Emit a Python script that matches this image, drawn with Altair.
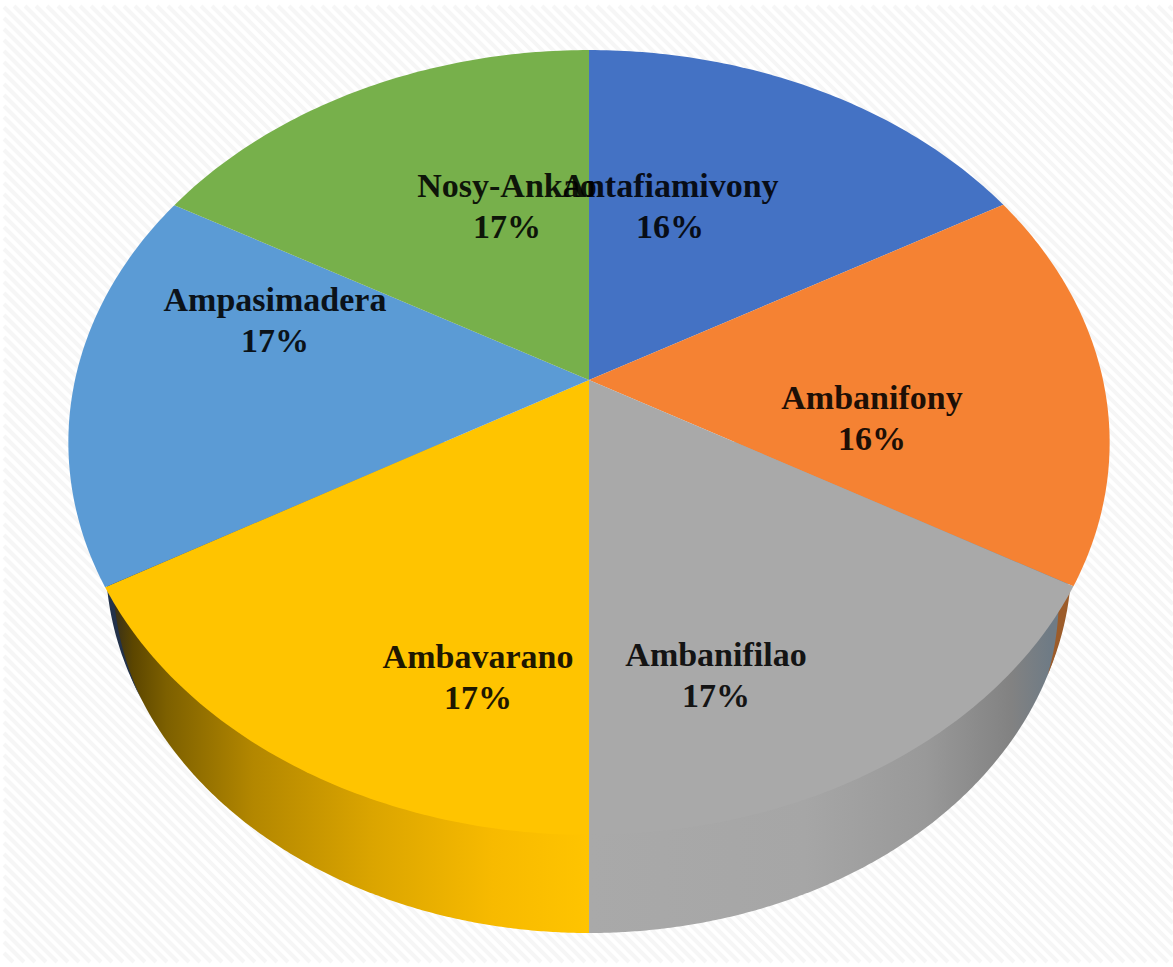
import numpy as np
import pandas as pd
import altair as alt

# Share of each commune, clockwise from twelve o'clock
communes = ["Antafiamivony", "Ambanifony", "Ambanifilao", "Ambavarano", "Ampasimadera", "Nosy-Ankao"]
shares = [16.49, 16.49, 17.02, 16.98, 16.51, 16.51]
face_colors = ["#4472C4", "#F58233", "#A9A9A9", "#FFC400", "#5B9BD5", "#77B04B"]
label_x = [670, 872, 716, 478, 275, 507]
label_y = [197, 409, 666, 668, 311, 197]

W, H = 1173, 967
X0 = 589            # horizontal axis of the pie
FACE_HUB_Y = 380    # where the tilted disc's centre lands
FACE_HALF_W = 514
TILT = 0.1592
FACE_V = -322
ANGLE_EASE = np.radians(1.2)   # slight angular foreshortening of the tilted face
BASE = (567, 480, 366)   # centre y, half width, half height of the bottom rim


def tilt(u, v):
    """Perspective projection of a point on the unit disc."""
    w = 1 + TILT * v
    return X0 + FACE_HALF_W * u / w, (FACE_HUB_Y + FACE_V * v) / w


def base_y(x):
    cy, rx, ry = BASE
    return cy + ry * np.sqrt(np.clip(1 - ((x - X0) / rx) ** 2, 0, 1))


def base_x(y, side):
    cy, rx, ry = BASE
    return X0 + side * rx * np.sqrt(np.clip(1 - ((y - cy) / ry) ** 2, 0, 1))


# Top face: one closed outline per slice
cuts = np.cumsum([0] + shares) / sum(shares) * 2 * np.pi
cuts = cuts + ANGLE_EASE * np.sin(cuts)
rows = []
for name, a0, a1 in zip(communes, cuts[:-1], cuts[1:]):
    arc = np.linspace(a0, a1, 80)
    px, py = tilt(np.sin(arc), np.cos(arc))
    hx, hy = tilt(0.0, 0.0)
    xs = np.r_[hx, px, hx]
    ys = np.r_[hy, py, hy]
    rows += [{"slice": name, "i": i, "x": a, "y": b} for i, (a, b) in enumerate(zip(xs, ys))]
face_df = pd.DataFrame(rows)

x_scale = alt.Scale(domain=[0, W], range=[0, W], nice=False, zero=False)
y_scale = alt.Scale(domain=[0, H], range=[0, H], nice=False, zero=False)
X = alt.X("x:Q", scale=x_scale, axis=None)
Y = alt.Y("y:Q", scale=y_scale, axis=None)

# Faint diagonal hatch behind the pie
offs = np.arange(-960, 1173, 11.0)
x_a = np.maximum(4, 6 + offs)
x_b = np.minimum(W, 962 + offs)
keep = x_b > x_a
hatch_df = pd.DataFrame({"x": x_a[keep], "x2": x_b[keep], "y": (x_a - offs)[keep], "y2": (x_b - offs)[keep]})
hatch = alt.Chart(hatch_df).mark_rule(color="#f6f6f6", strokeWidth=4).encode(
    x=X, x2="x2:Q", y=Y, y2="y2:Q"
)


def wall(x_from, x_to, stops):
    xs = np.linspace(x_from, x_to, 160)
    df = pd.DataFrame({"x": xs, "y": base_y(xs), "y2": 442.0})
    fill = alt.Gradient(
        gradient="linear", x1=0, x2=1, y1=0, y2=0,
        stops=[alt.GradientStop(offset=o, color=c) for o, c in stops],
    )
    return alt.Chart(df).mark_area(color=fill).encode(x=X, y=Y, y2="y2:Q")


wall_left = wall(X0 - BASE[1], X0, [
    (0.0, "#2e2a20"), (0.05, "#5c4600"), (0.12, "#7d6000"), (0.3, "#b38700"),
    (0.55, "#dba500"), (0.8, "#f7ba00"), (1.0, "#ffc400"),
])
wall_right = wall(X0, X0 + BASE[1], [
    (0.0, "#a9a9a9"), (0.45, "#a6a6a6"), (0.7, "#999999"), (0.88, "#828282"),
    (0.96, "#6f7b85"), (1.0, "#6f7b85"),
])

# Narrow rim of the neighbouring slices, seen at the far ends of the wall
ys_r = np.linspace(585, 675, 40)
fade_r = (675 - ys_r) / 90
rim_r = pd.DataFrame({"y": ys_r, "x": base_x(ys_r, 1) + 2 * fade_r, "x2": base_x(ys_r, 1) - 10 * fade_r})
rim_right = alt.Chart(rim_r).mark_area(orient="horizontal", color="#9c5c2a").encode(y=Y, x=X, x2="x2:Q")
ys_l = np.linspace(575, 700, 40)
fade_l = (700 - ys_l) / 125
rim_l = pd.DataFrame({"y": ys_l, "x": base_x(ys_l, -1) - 3 * fade_l, "x2": base_x(ys_l, -1) + 4 * fade_l})
rim_left = alt.Chart(rim_l).mark_area(orient="horizontal", color="#23324a").encode(y=Y, x=X, x2="x2:Q")

face = alt.Chart(face_df).mark_line(filled=True).encode(
    x=X, y=Y, order="i:Q",
    color=alt.Color("slice:N", scale=alt.Scale(domain=communes, range=face_colors), legend=None),
)

# Two-line labels: commune name above its rounded share
label_rows = []
for name, share, lx, ly in zip(communes, shares, label_x, label_y):
    label_rows.append({"text": name, "x": lx, "y": ly})
    label_rows.append({"text": f"{round(share)}%", "x": lx, "y": ly + 41})
labels = alt.Chart(pd.DataFrame(label_rows)).mark_text(
    font="Liberation Serif", fontWeight="bold", fontSize=34, color="#000000", opacity=0.88,
    align="center", baseline="alphabetic",
).encode(x=X, y=Y, text="text:N")

chart = alt.layer(hatch, wall_left, wall_right, rim_right, rim_left, face, labels).properties(
    width=W, height=H, padding=0, background="#ffffff",
    autosize=alt.AutoSizeParams(type="none"),
).configure_view(strokeWidth=0)

chart.save("out.html", embed_options={"renderer": "svg", "actions": False})
